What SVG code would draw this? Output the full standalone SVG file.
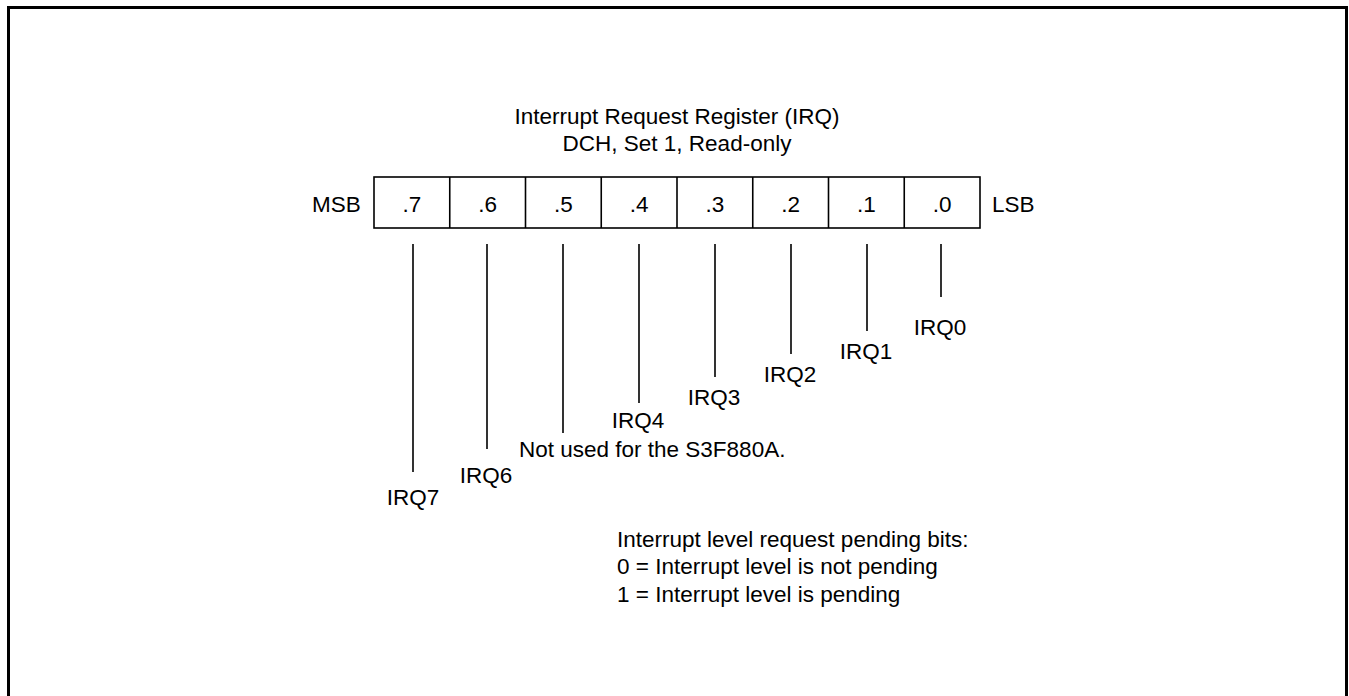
<svg xmlns="http://www.w3.org/2000/svg" width="1349" height="696" viewBox="0 0 1349 696">
<style>
text{font-family:"Liberation Sans",Arial,sans-serif;font-size:22.5px;fill:#000}
.c{text-anchor:middle}
.ln{stroke:#000;stroke-width:1.6;fill:none}
</style>
<rect x="0" y="0" width="1349" height="696" fill="#fff"/>
<rect id="frame" x="8.5" y="7.5" width="1338" height="720" fill="none" stroke="#000" stroke-width="3"/>
<g id="title">
<text class="c" x="677" y="124">Interrupt Request Register (IRQ)</text>
<text class="c" x="677" y="151">DCH, Set 1, Read-only</text>
</g>
<g id="register">
<text x="312" y="212">MSB</text>
<rect class="ln" x="374" y="177" width="606" height="51"/>
<path class="ln" d="M449.75 177V228M525.5 177V228M601.25 177V228M677 177V228M752.75 177V228M828.5 177V228M904.25 177V228"/>
<text class="c" x="412" y="212">.7</text>
<text class="c" x="487.6" y="212">.6</text>
<text class="c" x="563.4" y="212">.5</text>
<text class="c" x="639.1" y="212">.4</text>
<text class="c" x="714.9" y="212">.3</text>
<text class="c" x="790.6" y="212">.2</text>
<text class="c" x="866.4" y="212">.1</text>
<text class="c" x="942.1" y="212">.0</text>
<text x="992" y="212">LSB</text>
</g>
<g id="connectors">
<path class="ln" d="M413 244V472M487 244V449M563 244V433M639 244V403M715 244V377M791 244V354M867 244V331M941 244V297"/>
</g>
<g id="labels">
<text class="c" x="413" y="505">IRQ7</text>
<text class="c" x="486" y="483">IRQ6</text>
<text x="519" y="457">Not used for the S3F880A.</text>
<text class="c" x="638" y="428">IRQ4</text>
<text class="c" x="714" y="405">IRQ3</text>
<text class="c" x="790" y="382">IRQ2</text>
<text class="c" x="866" y="359">IRQ1</text>
<text class="c" x="940" y="335">IRQ0</text>
</g>
<g id="legend">
<text x="617" y="547">Interrupt level request pending bits:</text>
<text x="617" y="574">0 = Interrupt level is not pending</text>
<text x="617" y="602">1 = Interrupt level is pending</text>
</g>
</svg>
